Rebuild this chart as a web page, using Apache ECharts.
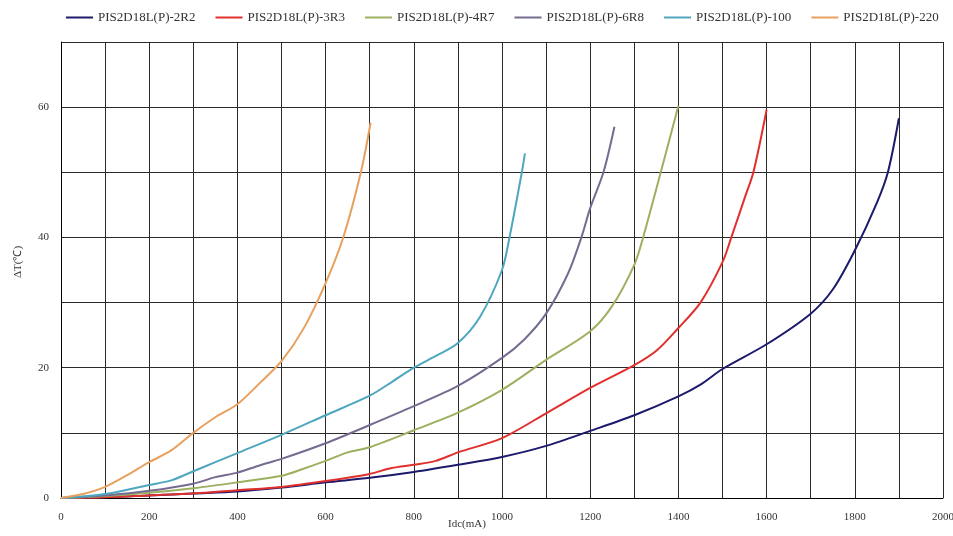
<!DOCTYPE html>
<html><head><meta charset="utf-8">
<script src="https://cdn.jsdelivr.net/npm/echarts@6/dist/echarts.min.js"></script>
<style>html,body{margin:0;padding:0;background:#fff}#c{width:953px;height:536px}</style>
</head><body><div id="c"></div>
<script>
const seriesNames = ['PIS2D18L(P)-2R2','PIS2D18L(P)-3R3','PIS2D18L(P)-4R7','PIS2D18L(P)-6R8','PIS2D18L(P)-100','PIS2D18L(P)-220'];
const colors = ['#1c1a6b','#e0302e','#9cb060','#776a90','#4ea6bf','#e8a05e'];
const d2R2 = [[0,0],[100,0.1],[200,0.4],[300,0.7],[400,1.0],[500,1.6],[600,2.4],[700,3.1],[800,4.0],[900,5.1],[1000,6.3],[1100,8.0],[1200,10.3],[1300,12.7],[1400,15.6],[1450,17.4],[1500,19.8],[1600,23.6],[1700,28.3],[1750,32],[1800,38],[1850,45.3],[1875,50],[1900,58.3]];
const d3R3 = [[0,0],[100,0.1],[200,0.4],[300,0.7],[400,1.2],[500,1.7],[600,2.6],[700,3.7],[750,4.6],[800,5.1],[850,5.7],[900,7.0],[1000,9.2],[1100,13],[1200,16.9],[1300,20.4],[1350,22.6],[1400,26.1],[1450,30],[1500,36.2],[1520,40],[1550,46],[1570,50],[1600,59.6]];
const d4R7 = [[0,0],[100,0.3],[200,0.8],[300,1.5],[400,2.4],[500,3.4],[550,4.5],[600,5.7],[650,7.0],[700,7.8],[800,10.4],[900,13.1],[1000,16.6],[1100,21.2],[1200,25.6],[1250,29.5],[1300,35.8],[1320,40],[1360,50],[1400,60.2]];
const d6R8 = [[0,0],[100,0.4],[200,1.1],[300,2.2],[350,3.2],[400,3.9],[450,5.0],[500,6.0],[600,8.4],[700,11.2],[800,14.1],[900,17.2],[1000,21.5],[1050,24.3],[1100,28.3],[1150,34.5],[1180,40],[1200,44.5],[1230,50],[1255,57]];
const d100 = [[0,0],[100,0.6],[200,2.0],[250,2.7],[300,4.1],[350,5.5],[400,6.9],[500,9.7],[600,12.7],[700,15.7],[750,17.8],[800,20],[850,21.8],[900,23.8],[950,27.8],[1000,35],[1017,40],[1045,50],[1052,52.9]];
const d220 = [[0,0],[50,0.6],[100,1.7],[150,3.5],[200,5.5],[250,7.3],[300,10],[350,12.4],[400,14.4],[450,17.6],[500,21],[550,26],[600,33],[640,40],[680,50],[702,57.6]];
const allData = [d2R2,d3R3,d4R7,d6R8,d100,d220];

const font = '"Liberation Serif","Times New Roman",serif';
const chart = echarts.init(document.getElementById('c'));
chart.setOption({
  animation:false,
  backgroundColor:'#fff',
  legend:{top:6,left:61,itemWidth:27,itemHeight:2,itemGap:20,icon:'rect',
    textStyle:{fontFamily:font,fontSize:13,color:'#333'},data:seriesNames},
  grid:{left:61,right:10,top:42,bottom:38,outerBoundsMode:'none',containLabel:false},
  xAxis:{type:'value',min:0,max:2000,interval:100,
    name:'Idc(mA)',nameLocation:'middle',nameGap:21,nameMoveOverlap:false,
    nameTextStyle:{fontFamily:font,fontSize:11,color:'#333',padding:[0,70,0,0]},
    axisLine:{lineStyle:{color:'#000',width:1}},axisTick:{show:false},
    axisLabel:{fontFamily:font,fontSize:11,color:'#333',margin:14,
      formatter:v=>v%200===0?String(v):''},
    splitLine:{show:true,lineStyle:{color:'#2a2a2a',width:1}}},
  yAxis:{type:'value',min:0,max:70,interval:10,
    name:'ΔT(℃)',nameLocation:'middle',nameGap:37,nameMoveOverlap:false,
    nameTextStyle:{fontFamily:font,fontSize:11,color:'#333',padding:[0,0,0,16]},
    axisLine:{show:true,lineStyle:{color:'#000',width:1}},axisTick:{show:false},
    axisLabel:{fontFamily:font,fontSize:11,color:'#333',margin:12,
      formatter:v=>v%20===0?String(v):''},
    splitLine:{show:true,lineStyle:{color:'#2a2a2a',width:1}}},
  series: seriesNames.map((n,i)=>({name:n,type:'line',data:allData[i],smooth:0.3,
    showSymbol:false,lineStyle:{width:2,color:colors[i]},itemStyle:{color:colors[i]}}))
});
</script></body></html>
